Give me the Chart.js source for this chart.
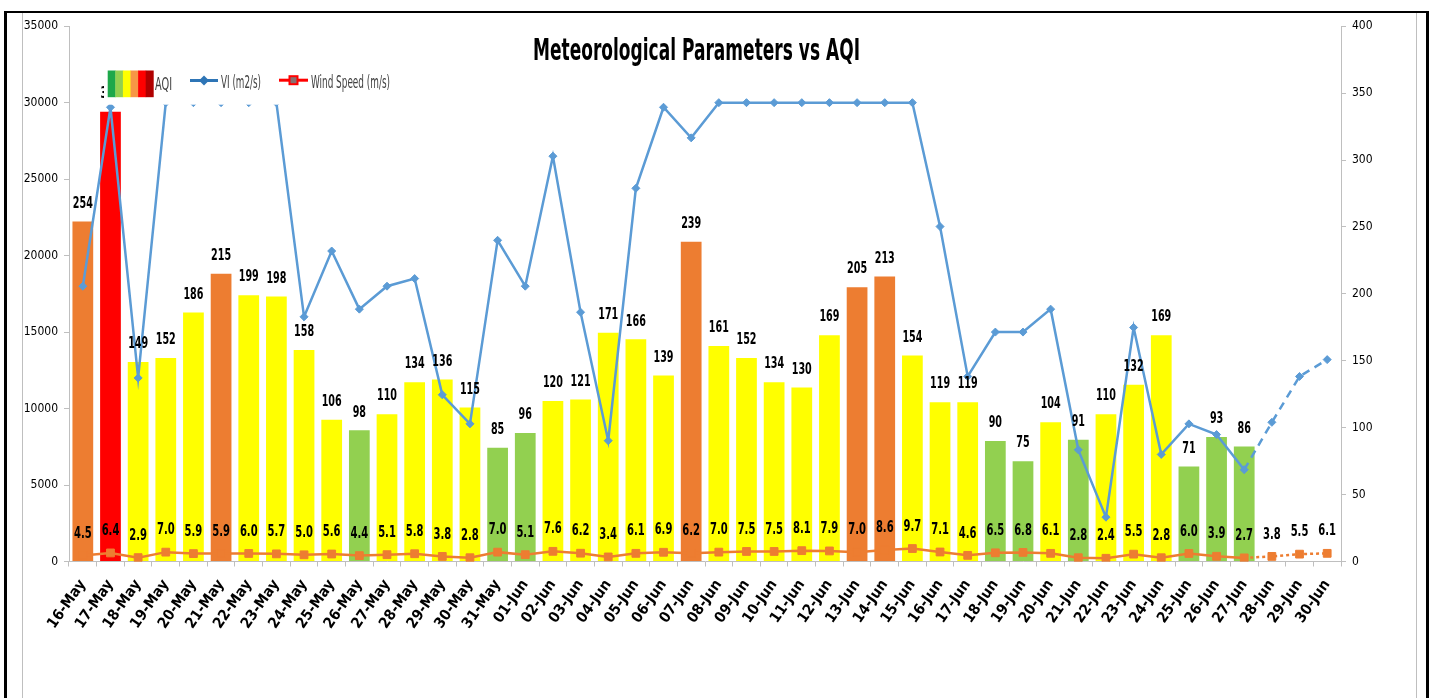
<!DOCTYPE html>
<html>
<head>
<meta charset="utf-8">
<title>Meteorological Parameters vs AQI</title>
<script src="https://cdn.jsdelivr.net/npm/chart.js@4.4.1/dist/chart.umd.min.js"></script>
<style>
  html, body { margin:0; padding:0; background:#fff; width:1432px; height:698px; overflow:hidden }
  #frame { position:absolute; left:4px; top:11px; width:1419px; height:700px; border-top:2px solid #000; border-left:3px solid #000; border-right:3px solid #000 }
  #box { position:absolute; left:22px; top:13px; width:1393px; height:700px; border-left:1px solid #bfbfbf; border-right:1px solid #bfbfbf }
  #chart { position:absolute; left:23px; top:13px }
</style>
</head>
<body>
<div id="frame"></div>
<div id="box"></div>
<canvas id="chart" width="1392" height="685"></canvas>
<script>
// --- data ---
const DATES = [
  '16-May','17-May','18-May','19-May','20-May','21-May','22-May','23-May','24-May','25-May',
  '26-May','27-May','28-May','29-May','30-May','31-May',
  '01-Jun','02-Jun','03-Jun','04-Jun','05-Jun','06-Jun','07-Jun','08-Jun','09-Jun','10-Jun',
  '11-Jun','12-Jun','13-Jun','14-Jun','15-Jun','16-Jun','17-Jun','18-Jun','19-Jun','20-Jun',
  '21-Jun','22-Jun','23-Jun','24-Jun','25-Jun','26-Jun','27-Jun','28-Jun','29-Jun','30-Jun'
];
// AQI (bars, right axis) - no AQI for the last three days
const AQI = [
  254, 336, 149, 152, 186, 215, 199, 198, 158, 106, 98, 110, 134, 136, 115, 85,
  96, 120, 121, 171, 166, 139, 239, 161, 152, 134, 130, 169, 205, 213, 154, 119,
  119, 90, 75, 104, 91, 110, 132, 169, 71, 93, 86, null, null, null
];
// ventilation index, m2/s (left axis)
const VI = [
  18000, 29700, 12000, 30000, 30000, 30000, 30000, 30000, 16000, 20300, 16500, 18000, 18500, 10900, 9000, 21000,
  18000, 26500, 16300, 7900, 24400, 29700, 27700, 30000, 30000, 30000, 30000, 30000, 30000, 30000, 30000, 21900,
  12100, 15000, 15000, 16500, 7300, 2900, 15300, 7000, 9000, 8300, 6000, 9100, 12100, 13200
];
// wind speed, m/s (right axis)
const WIND = [
  4.5, 6.4, 2.9, 7.0, 5.9, 5.9, 6.0, 5.7, 5.0, 5.6, 4.4, 5.1, 5.8, 3.8, 2.8, 7.0,
  5.1, 7.6, 6.2, 3.4, 6.1, 6.9, 6.2, 7.0, 7.5, 7.5, 8.1, 7.9, 7.0, 8.6, 9.7, 7.1,
  4.6, 6.5, 6.8, 6.1, 2.8, 2.4, 5.5, 2.8, 6.0, 3.9, 2.7, 3.8, 5.5, 6.1
];
const VI_TICKS = [0, 5000, 10000, 15000, 20000, 25000, 30000, 35000];
const AQI_TICKS = [0, 50, 100, 150, 200, 250, 300, 350, 400];

const TITLE = 'Meteorological Parameters vs AQI';
const NARROW = '"DejaVu Sans Condensed", "Liberation Sans Narrow", sans-serif';

// AQI band colours (good .. severe)
const BANDS = [
  { upto: 50,  color: '#00B050' },
  { upto: 100, color: '#92D050' },
  { upto: 200, color: '#FFFF00' },
  { upto: 300, color: '#ED7D31' },
  { upto: 400, color: '#FF0000' },
  { upto: Infinity, color: '#C00000' },
];
function aqiColor(v) {
  return (BANDS.find(b => v <= b.upto) || BANDS[BANDS.length - 1]).color;
}

// days after the last AQI reading are drawn dashed
const LAST_OBS = AQI.findIndex(v => v == null) - 1;
const dashAfterObs = (dash) => (c) => c.p0DataIndex >= LAST_OBS ? dash : undefined;

// draw text squeezed horizontally by sx (the source chart uses a very narrow face)
function squish(ctx, text, x, y, sx) {
  ctx.save();
  ctx.translate(x, y);
  ctx.scale(sx, 1);
  ctx.fillText(text, 0, 0);
  ctx.restore();
}
function fitText(ctx, text, x, y, w) {
  squish(ctx, text, x, y, w / ctx.measureText(text).width);
}

// number labels above bars and above wind-speed markers
const valueLabels = {
  id: 'valueLabels',
  afterDatasetsDraw(chart) {
    const ctx = chart.ctx;
    ctx.save();
    ctx.font = 'bold 16px ' + NARROW;
    ctx.fillStyle = '#000';
    ctx.textAlign = 'center';
    ctx.textBaseline = 'middle';
    const sxBar = 20 / ctx.measureText('000').width;
    const sxWind = 17.7 / ctx.measureText('0.0').width;
    chart.getDatasetMeta(0).data.forEach((bar, i) => {
      if (AQI[i] == null) return;
      squish(ctx, String(AQI[i]), bar.x, bar.y - 18, sxBar);
    });
    chart.getDatasetMeta(2).data.forEach((pt, i) => {
      squish(ctx, WIND[i].toFixed(1), pt.x, pt.y - 22, sxWind);
    });
    ctx.restore();
  }
};

// legend sits inside the plot on a white box (covers what is under it)
const legendBox = {
  id: 'legendBox',
  afterDatasetsDraw(chart) {
    const { ctx, chartArea: a } = chart;
    const x = a.left + 35, y = a.top + 40;
    ctx.save();
    ctx.fillStyle = '#fff';
    ctx.fillRect(x, y, 291, 38.5);

    const swatch = ['#1DA84A', '#92D050', '#FFFF00', '#F79646', '#FF0000', '#B00000'];
    const sw = 45.6 / swatch.length;
    swatch.forEach((c, i) => {
      ctx.fillStyle = c;
      ctx.fillRect(x + 3.7 + i * sw, y + 4.3, sw + 0.4, 26.7);
    });

    // VI: blue line with diamond
    ctx.strokeStyle = '#2E75B6';
    ctx.fillStyle = '#2E75B6';
    ctx.lineWidth = 3;
    ctx.beginPath(); ctx.moveTo(x + 86, y + 14.3); ctx.lineTo(x + 114, y + 14.3); ctx.stroke();
    ctx.beginPath();
    ctx.moveTo(x + 100, y + 9.3); ctx.lineTo(x + 105, y + 14.3);
    ctx.lineTo(x + 100, y + 19.3); ctx.lineTo(x + 95, y + 14.3);
    ctx.closePath(); ctx.fill();

    // wind: red line with square
    ctx.strokeStyle = '#FF0000';
    ctx.beginPath(); ctx.moveTo(x + 175, y + 14); ctx.lineTo(x + 204, y + 14); ctx.stroke();
    ctx.fillStyle = '#8a6f6f';
    ctx.lineWidth = 2;
    ctx.fillRect(x + 185.5, y + 10, 8, 8);
    ctx.strokeRect(x + 185.5, y + 10, 8, 8);

    ctx.font = '17px ' + NARROW;
    ctx.fillStyle = '#404040';
    ctx.textBaseline = 'middle';
    ctx.textAlign = 'left';
    fitText(ctx, 'AQI', x + 51, y + 19, 17);
    fitText(ctx, 'VI (m2/s)', x + 117, y + 17, 40);
    fitText(ctx, 'Wind Speed (m/s)', x + 207, y + 17, 79);
    ctx.restore();
  }
};

const titlePlugin = {
  id: 'titleInPlot',
  afterDraw(chart) {
    const { ctx, chartArea: a } = chart;
    ctx.save();
    ctx.font = 'bold 30px ' + NARROW;
    ctx.fillStyle = '#000';
    ctx.textAlign = 'center';
    ctx.textBaseline = 'alphabetic';
    fitText(ctx, TITLE, (a.left + a.right) / 2 - 8.5, a.top + 34, 327);
    ctx.restore();
  }
};

Chart.defaults.font.family = NARROW;
Chart.defaults.color = '#000';

const axisGrid = { display: true, drawOnChartArea: false, drawTicks: true, tickLength: 5, color: '#bfbfbf' };
const axisBorder = { display: true, color: '#bfbfbf', width: 1 };
const plainNumber = v => String(v);

new Chart(document.getElementById('chart'), {
  type: 'bar',
  data: {
    labels: DATES,
    datasets: [
      {
        label: 'AQI',
        data: AQI,
        yAxisID: 'y1',
        backgroundColor: AQI.map(v => v == null ? 'transparent' : aqiColor(v)),
        barPercentage: 0.75,
        categoryPercentage: 1,
        order: 3,
      },
      {
        type: 'line',
        label: 'VI (m2/s)',
        data: VI,
        yAxisID: 'y',
        borderColor: '#5B9BD5',
        backgroundColor: '#5B9BD5',
        borderWidth: 2.5,
        pointStyle: 'rectRot',
        pointRadius: 4,
        pointBorderWidth: 1,
        tension: 0,
        segment: { borderDash: dashAfterObs([8, 6]) },
        order: 1,
      },
      {
        type: 'line',
        label: 'Wind Speed (m/s)',
        data: WIND,
        yAxisID: 'y1',
        borderColor: '#ED7D31',
        backgroundColor: '#ED7D31',
        borderWidth: 2.5,
        pointStyle: 'rect',
        pointRadius: 5.5,
        pointBorderWidth: 1,
        tension: 0,
        segment: { borderDash: dashAfterObs([3, 3]) },
        order: 2,
      },
    ],
  },
  options: {
    responsive: false,
    animation: false,
    events: [],
    layout: { padding: { top: 13, left: 0, right: 0, bottom: 0 } },
    plugins: { legend: { display: false }, tooltip: { enabled: false } },
    scales: {
      x: {
        offset: true,
        grid: Object.assign({ offset: true }, axisGrid),
        border: axisBorder,
        ticks: { autoSkip: false, minRotation: 55, maxRotation: 55, padding: 10, font: { size: 15, weight: 'bold' } },
        afterFit: s => { s.height = 136.5; },
      },
      y: {
        position: 'left',
        min: VI_TICKS[0],
        max: VI_TICKS[VI_TICKS.length - 1],
        afterBuildTicks: s => { s.ticks = VI_TICKS.map(v => ({ value: v })); },
        grid: axisGrid,
        border: axisBorder,
        ticks: { padding: 6, font: { size: 12 }, callback: plainNumber },
        afterFit: s => { s.width = 46; },
      },
      y1: {
        position: 'right',
        min: AQI_TICKS[0],
        max: AQI_TICKS[AQI_TICKS.length - 1],
        afterBuildTicks: s => { s.ticks = AQI_TICKS.map(v => ({ value: v })); },
        grid: axisGrid,
        border: axisBorder,
        ticks: { padding: 6, font: { size: 12 }, callback: plainNumber },
        afterFit: s => { s.width = 74; },
      },
    },
  },
  plugins: [valueLabels, legendBox, titlePlugin],
});
</script>
</body>
</html>
